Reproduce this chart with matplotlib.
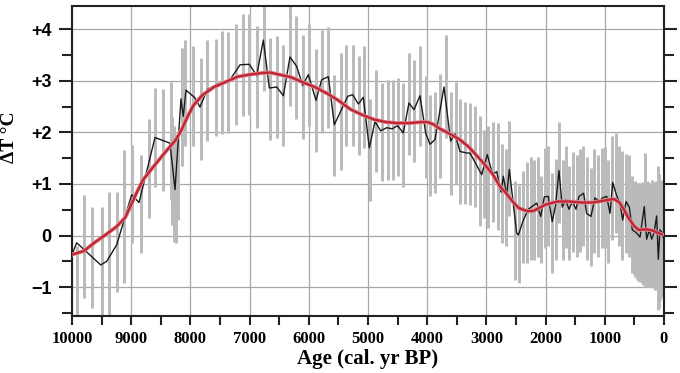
import numpy as np
import matplotlib
matplotlib.use("Agg")
import matplotlib.pyplot as plt
from matplotlib.ticker import MultipleLocator, FixedLocator

# raw reconstruction (thin black line)
age = [10000, 9921, 9515, 9414, 9245, 8992, 8868, 8598, 8345, 8260, 8159, 8120, 8075,
       7923, 7838, 7715, 7556, 7331, 7162, 7005, 6880, 6768, 6667, 6542, 6430, 6318,
       6205, 6104, 6008, 5878, 5782, 5670, 5569, 5473, 5343, 5259, 5163, 5079, 4978,
       4882, 4786, 4685, 4590, 4500, 4404, 4308, 4223, 4122, 4026, 3953, 3869, 3716,
       3604, 3531, 3446, 3334, 3277, 3079, 2985, 2894, 2827, 2753, 2714, 2658, 2613,
       2489, 2460, 2376, 2292, 2151, 2083, 2022, 1955, 1888, 1830, 1774, 1719, 1662,
       1606, 1544, 1487, 1436, 1357, 1307, 1234, 1166, 1093, 1036, 969, 912, 867, 799,
       743, 698, 642, 586, 535, 473, 405, 333, 293, 248, 208, 169, 124, 96, 68, 29, 10]
temp = [-0.37, -0.14, -0.57, -0.50, -0.18, 0.79, 0.64, 1.90, 1.79, 0.89, 2.65, 2.31, 2.82,
        2.67, 2.49, 2.83, 2.93, 3.02, 3.31, 3.32, 3.10, 3.79, 2.86, 2.88, 2.71, 3.46,
        3.28, 2.91, 3.12, 2.62, 3.02, 3.08, 2.15, 2.38, 2.70, 2.73, 2.55, 2.68, 1.70,
        2.21, 2.03, 2.09, 2.07, 2.13, 1.99, 2.57, 2.44, 2.71, 1.99, 1.77, 1.86, 2.88,
        1.83, 1.97, 1.63, 1.60, 1.60, 1.18, 1.57, 1.18, 1.24, 0.84, 1.15, 0.77, 1.28,
        0.05, 0.01, 0.30, 0.51, 0.63, 0.37, 0.75, 0.76, 0.27, 0.60, 1.26, 0.55, 0.69,
        0.51, 0.66, 0.51, 0.76, 0.82, 0.43, 0.37, 0.73, 0.66, 0.73, 0.76, 0.43, 1.03, 0.77,
        0.62, 0.30, 0.66, 0.55, 0.11, 0.06, -0.03, 0.56, -0.07, 0.11, -0.07, 0.05, 0.38, -0.46, 0.11, 0.05, -0.05]

# uncertainty bars (grey)
bar_age = [9921, 9797, 9657, 9499, 9369, 9245, 9116, 8981, 8840, 8699, 8598, 8468, 8333,
           8310, 8272, 8240, 8204, 8148, 8091, 7951, 7827, 7714, 7573, 7471, 7359, 7230,
           7117, 7005, 6880, 6757, 6655, 6542, 6430, 6318, 6216, 6104, 5992, 5878, 5771,
           5681, 5569, 5456, 5372, 5259, 5152, 5060, 4966, 4865, 4769, 4668, 4583, 4488,
           4404, 4308, 4223, 4122, 4026, 3953, 3868, 3784, 3688, 3603, 3519, 3446, 3362,
           3277, 3193, 3108, 3041, 2968, 2884, 2810, 2742, 2675, 2615, 2517, 2449, 2376,
           2309, 2247, 2191, 2134, 2078, 2011, 1955, 1887, 1825, 1769, 1712, 1655, 1599,
           1532, 1475, 1419, 1363, 1306, 1233, 1177, 1110, 1053, 997, 941, 873, 816, 760,
           704, 647, 591, 535, 490, 433, 377, 321, 264, 208, 152, 107, 68, 29,
           512, 462, 405, 350, 293, 236, 180, 130, 88, 48, 12]
bar_lo = [-1.6, -1.22, -1.41, -1.6, -1.55, -1.09, -0.92, -0.15, -0.34, 0.34, 0.95, 0.86, 0.69,
          0.20, -0.12, -0.15, 0.30, 1.34, 1.73, 1.73, 1.47, 1.83, 1.92, 1.96, 1.99, 2.15,
          2.31, 2.34, 2.08, 2.80, 1.85, 1.89, 1.73, 2.51, 2.25, 1.87, 2.12, 1.61, 1.99,
          2.08, 1.15, 1.28, 1.73, 1.73, 1.57, 1.70, 0.66, 1.24, 1.05, 1.08, 1.08, 1.15,
          0.95, 1.57, 1.42, 1.74, 1.11, 0.76, 0.82, 1.11, 1.89, 0.79, 1.00, 0.62, 0.62,
          0.60, 0.56, 0.18, 0.34, 0.14, 0.27, 0.11, -0.15, -0.21, 0.37, -0.86, -0.92, -0.54,
          -0.54, -0.47, -0.47, -0.41, -0.54, -0.24, -0.21, -0.73, -0.47, 0.24, -0.47, -0.24, -0.47,
          -0.31, -0.41, -0.31, -0.21, -0.47, -0.60, -0.34, -0.41, -0.24, -0.24, -0.54, -0.08, 0.05, -0.21,
          -0.47, -0.34, -0.41, -0.73, -0.80, -0.88, -0.92, -1.0, -1.0, -0.95, -1.05, -1.44, -1.25, -1.12,
          -0.75, -0.85, -0.90, -0.95, -1.00, -1.00, -1.02, -1.05, -1.40, -1.20, -1.10]
bar_hi = [-0.2, 0.79, 0.55, 0.56, 0.85, 0.84, 1.65, 1.76, 1.57, 2.25, 2.86, 2.84, 2.97,
          2.30, 2.12, 1.90, 1.99, 3.64, 3.79, 3.67, 3.44, 3.80, 3.81, 3.96, 3.95, 4.11,
          4.29, 4.29, 4.06, 4.46, 3.83, 3.87, 3.70, 4.45, 4.25, 3.88, 4.11, 3.61, 3.99,
          4.05, 3.12, 3.54, 3.70, 3.70, 3.49, 3.67, 2.64, 3.20, 2.96, 3.02, 3.02, 3.06,
          2.95, 3.54, 3.40, 3.68, 3.10, 2.73, 2.78, 3.14, 3.88, 2.78, 2.97, 2.64, 2.58,
          2.57, 2.52, 2.31, 2.05, 2.12, 2.20, 2.18, 1.78, 1.67, 2.22, 1.05, 0.98, 1.26,
          1.42, 1.52, 1.47, 1.52, 1.15, 1.70, 1.73, 1.21, 1.48, 2.21, 1.47, 1.74, 1.34,
          1.61, 1.57, 1.68, 1.73, 1.53, 1.31, 1.67, 1.57, 1.70, 1.72, 1.47, 1.92, 1.99, 1.73,
          1.63, 1.59, 1.57, 1.15, 1.05, 1.02, 1.03, 1.60, 1.03, 1.08, 1.03, 1.34, 1.05, 1.08,
          1.00, 1.02, 1.02, 1.02, 1.05, 1.02, 1.02, 1.05, 1.20, 1.05, 1.05]

# smoothed curve (red)
smooth_age = [10000, 9800, 9600, 9450, 9250, 9100, 9000, 8900, 8800, 8600, 8400, 8250,
              8150, 8050, 7950, 7800, 7600, 7400, 7200, 7000, 6800, 6650, 6500, 6300,
              6100, 5900, 5700, 5500, 5300, 5100, 4900, 4700, 4500, 4300, 4100, 4000,
              3900, 3800, 3600, 3450, 3300, 3100, 2900, 2770, 2680, 2550, 2450, 2300,
              2200, 2000, 1800, 1600, 1400, 1200, 1000, 850, 750, 650, 600, 500, 430,
              300, 200, 100, 30]
smooth_t = [-0.37, -0.30, -0.12, 0.0, 0.17, 0.35, 0.60, 0.85, 1.08, 1.37, 1.65, 1.85,
            2.05, 2.30, 2.52, 2.72, 2.88, 2.98, 3.08, 3.12, 3.15, 3.16, 3.12, 3.07,
            2.97, 2.88, 2.76, 2.62, 2.45, 2.34, 2.25, 2.20, 2.18, 2.18, 2.20, 2.20,
            2.16, 2.08, 1.96, 1.86, 1.72, 1.47, 1.20, 0.95, 0.84, 0.65, 0.53, 0.47,
            0.48, 0.60, 0.66, 0.66, 0.64, 0.64, 0.68, 0.71, 0.64, 0.45, 0.34, 0.18, 0.11,
            0.12, 0.10, 0.05, 0.02]

ytick_vals = [-1, 0, 1, 2, 3, 4]
ytick_text = ["\u22121", "0", "+1", "+2", "+3", "+4"]
xtick_vals = [10000, 9000, 8000, 7000, 6000, 5000, 4000, 3000, 2000, 1000, 0]

fig = plt.figure(figsize=(6.8, 3.73), dpi=100)
ax = fig.add_axes([72 / 680, 57 / 373, 592 / 680, 310 / 373])

ax.vlines(bar_age, bar_lo, bar_hi, color="#bababa", lw=2.1, zorder=2)
ax.plot(age, temp, color="#1a1a1a", lw=1.0, zorder=3)
ax.plot(smooth_age, smooth_t, color="#e59a9a", lw=2.9, zorder=4, solid_capstyle="round")
ax.plot(smooth_age, smooth_t, color="#c0283a", lw=1.8, zorder=5, solid_capstyle="round")

ax.set_xlim(10000, 0)
ax.set_ylim(-1.56, 4.45)

ax.xaxis.set_major_locator(FixedLocator(xtick_vals))
ax.xaxis.set_minor_locator(MultipleLocator(500))
ax.set_yticks(ytick_vals)
ax.set_yticklabels(ytick_text)
ax.yaxis.set_minor_locator(MultipleLocator(0.5))
ax.set_xticklabels([str(v) for v in xtick_vals])

ax.grid(True, which="major", color="#a8a8a8", lw=0.9, zorder=0)
ax.set_axisbelow(True)

for s in ax.spines.values():
    s.set_linewidth(1.5)
    s.set_color("#222222")

ax.tick_params(axis="y", which="both", direction="out", left=True, right=True,
               width=1.5, color="#222222")
ax.tick_params(axis="y", which="major", length=9.5, pad=5)
ax.tick_params(axis="y", which="minor", length=7)
ax.tick_params(axis="x", which="both", direction="out", bottom=True, top=False,
               length=6.5, width=1.5, color="#222222", pad=4)

for lab in ax.get_yticklabels():
    lab.set_fontfamily("Liberation Sans")
    lab.set_fontweight("bold")
    lab.set_fontsize(13)
for lab in ax.get_xticklabels():
    lab.set_fontfamily("Liberation Serif")
    lab.set_fontweight("bold")
    lab.set_fontsize(12)

ax.set_xlabel("Age (cal. yr BP)", fontfamily="Liberation Serif", fontweight="bold",
              fontsize=15, labelpad=2)
fig.text(10 / 680, 0.633, "\u0394T \u00b0C", rotation=90, ha="center", va="center",
         fontfamily="Liberation Serif", fontweight="bold", fontsize=14)

fig.savefig("out.png", dpi=100)
